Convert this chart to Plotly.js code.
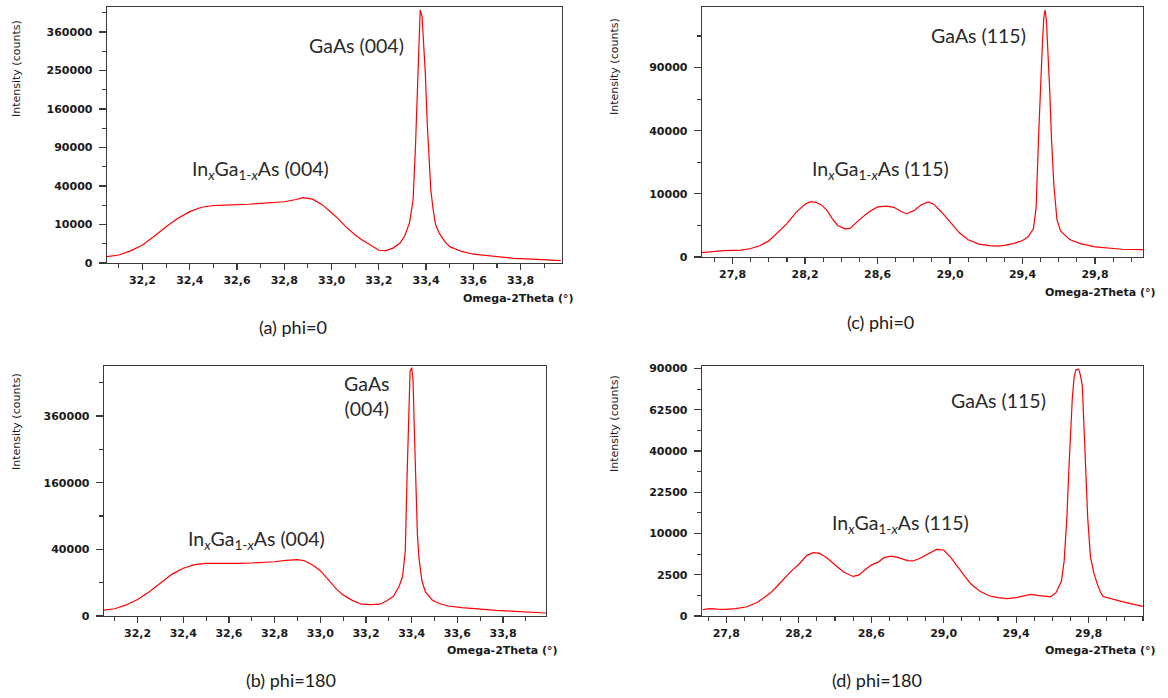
<!DOCTYPE html>
<html><head><meta charset="utf-8">
<script src="https://cdn.plot.ly/plotly-3.0.1.min.js"></script>
<style>html,body{margin:0;padding:0;background:#fff}#chart{width:1168px;height:698px}</style>
</head><body><div id="chart"></div>
<script>
// (a) GaAs (004), phi=0
const aTheta = [32.05,32.10,32.15,32.20,32.25,32.30,32.35,32.40,32.45,32.50,32.55,32.60,32.65,32.70,32.75,32.80,32.85,32.88,32.92,32.96,33.00,33.03,33.06,33.10,33.13,33.17,33.20,33.23,33.26,33.29,33.31,33.33,33.345,33.355,33.362,33.368,33.375,33.383,33.39,33.397,33.405,33.412,33.42,33.43,33.44,33.456,33.48,33.50,33.55,33.60,33.65,33.70,33.77,33.85,33.90,33.97];
const aCounts = [270,430,1000,2190,4800,8900,13500,17800,21000,22300,22600,22700,23300,24000,24700,25300,27200,28800,27500,23000,17000,13000,8900,5300,3570,1900,1100,1050,1500,2700,5000,11000,27000,90000,200000,330000,432000,410000,330000,240000,130000,70000,36000,19000,10000,5900,3000,1800,900,520,380,260,150,100,70,36];
// (b) GaAs (004), phi=180
const bTheta = [32.05,32.10,32.15,32.20,32.25,32.30,32.35,32.40,32.45,32.50,32.55,32.60,32.65,32.70,32.75,32.80,32.85,32.90,32.93,32.97,33.00,33.04,33.07,33.10,33.14,33.18,33.22,33.26,33.29,33.32,33.345,33.36,33.372,33.38,33.386,33.393,33.40,33.406,33.412,33.418,33.425,33.432,33.445,33.46,33.49,33.52,33.56,33.62,33.70,33.77,33.85,33.92,33.99];
const bCounts = [290,470,1100,2420,5200,9700,15600,20500,23800,24900,24800,24800,24900,25300,25600,26500,27800,28600,27500,23000,18500,11000,6600,4000,2200,1250,1150,1250,2000,3500,8000,14000,38000,180000,360000,540000,555000,500000,300000,150000,60000,30000,11000,5200,2300,1400,900,630,420,290,200,130,80];
// (c) GaAs (115), phi=0
const cTheta = [27.63,27.70,27.75,27.80,27.85,27.90,27.95,28.00,28.05,28.10,28.15,28.20,28.23,28.26,28.29,28.32,28.35,28.38,28.42,28.45,28.50,28.55,28.60,28.65,28.69,28.73,28.76,28.80,28.84,28.88,28.91,28.95,29.00,29.05,29.10,29.16,29.22,29.26,29.30,29.35,29.40,29.43,29.46,29.475,29.49,29.50,29.51,29.518,29.525,29.532,29.54,29.55,29.56,29.573,29.59,29.61,29.66,29.72,29.80,29.85,29.90,29.95,30.065];
const cCounts = [50,85,100,110,120,180,320,650,1500,2800,5000,7000,7700,7500,6800,5500,3700,2500,2000,2100,3500,5000,6300,6500,6200,5200,4700,5400,6800,7600,7000,5200,3100,1500,750,420,320,300,340,450,680,1000,2000,6000,40000,80000,115000,145000,153000,140000,110000,70000,35000,13000,3500,1700,760,450,260,220,180,150,135];
// (d) GaAs (115), phi=180
const dTheta = [27.67,27.71,27.75,27.80,27.85,27.91,27.97,28.00,28.04,28.08,28.12,28.16,28.20,28.245,28.28,28.31,28.34,28.37,28.41,28.45,28.50,28.53,28.57,28.60,28.64,28.67,28.71,28.75,28.80,28.83,28.87,28.92,28.96,29.00,29.04,29.07,29.11,29.15,29.20,29.25,29.30,29.35,29.40,29.45,29.48,29.52,29.56,29.59,29.62,29.65,29.665,29.68,29.69,29.70,29.71,29.72,29.73,29.745,29.755,29.765,29.775,29.785,29.795,29.81,29.83,29.847,29.865,29.88,29.93,29.99,30.05,30.10];
const dCounts = [60,80,70,66,80,119,264,420,737,1300,2100,3000,3900,5400,5900,5800,5300,4600,3600,2800,2300,2450,3200,3800,4300,5000,5250,5000,4500,4450,4900,5800,6500,6400,5000,3800,2500,1500,900,600,500,445,500,620,680,620,560,540,800,1800,4500,14400,30000,50000,70000,84000,89000,89500,85000,78000,50000,28000,14000,5100,2600,1540,850,560,420,290,200,138];

// tick labels
const yTicksA = [0,10000,40000,90000,160000,250000,360000];
const yTicksB = [0,40000,160000,360000];
const yTicksC = [0,10000,40000,90000];
const yTicksD = [0,2500,10000,22500,40000,62500,90000];
const xTicksAB = [32.2,32.4,32.6,32.8,33.0,33.2,33.4,33.6,33.8];
const xLabelsAB = ['32,2','32,4','32,6','32,8','33,0','33,2','33,4','33,6','33,8'];
const xTicksCD = [27.8,28.2,28.6,29.0,29.4,29.8];
const xLabelsCD = ['27,8','28,2','28,6','29,0','29,4','29,8'];

const W = 1168, H = 698;
const px = x => x / W, py = y => 1 - y / H;
const sq = arr => arr.map(v => Math.sqrt(v));

const lineCol = '#3a3a3a';
const tickFont = {family: 'DejaVu Sans', size: 11, color: '#1a1a1a', weight: 'bold'};

function xAx(x0, x1, range, tv, tt, anchor) {
  return {domain: [px(x0), px(x1)], range: range, anchor: anchor,
    showline: true, mirror: true, linecolor: lineCol, linewidth: 1.3,
    ticks: 'outside', ticklen: 6, tickwidth: 1.2, tickcolor: lineCol,
    tickmode: 'array', tickvals: tv, ticktext: tt, tickfont: tickFont,
    showgrid: false, zeroline: false,
    minor: {ticks: 'outside', ticklen: 4, tickwidth: 1.1, tickcolor: lineCol, dtick: 0.1, tick0: 27.0, showgrid: false}};
}
function yAx(y0, y1, top, ticks, minorStep, anchor) {
  return {domain: [py(y1), py(y0)], range: [0, top], anchor: anchor,
    showline: true, mirror: true, linecolor: lineCol, linewidth: 1.3,
    ticks: 'outside', ticklen: 7, tickwidth: 1.2, tickcolor: lineCol,
    tickmode: 'array', tickvals: ticks.map(Math.sqrt), ticktext: ticks.map(String), tickfont: tickFont,
    ticklabelstandoff: 4,
    showgrid: false, zeroline: false,
    minor: {ticks: 'outside', ticklen: 4, tickwidth: 1.1, tickcolor: lineCol, dtick: minorStep, tick0: 0, showgrid: false}};
}

const red = {color: '#ff0000', width: 1.2};
const traces = [
  {x: aTheta, y: sq(aCounts), xaxis: 'x', yaxis: 'y', mode: 'lines', line: red},
  {x: bTheta, y: sq(bCounts), xaxis: 'x2', yaxis: 'y2', mode: 'lines', line: red},
  {x: cTheta, y: sq(cCounts), xaxis: 'x3', yaxis: 'y3', mode: 'lines', line: red},
  {x: dTheta, y: sq(dCounts), xaxis: 'x4', yaxis: 'y4', mode: 'lines', line: red}
];

const lblFont = {family: 'Lato', size: 19.5, color: '#2a2a2a'};
const capFont = {family: 'Lato', size: 18, color: '#1a1a1a'};
const ytFont = {family: 'DejaVu Sans', size: 11, color: '#1a1a1a'};
const xtFont = {family: 'DejaVu Sans', size: 11, color: '#1a1a1a', weight: 'bold'};
function ann(x, y, text, font, extra) {
  return Object.assign({xref: 'paper', yref: 'paper', x: px(x), y: py(y), text: text, font: font,
    showarrow: false, xanchor: 'center', yanchor: 'middle'}, extra || {});
}
const ingaas = t => 'In<sub><i>x</i></sub>Ga<sub>1-<i>x</i></sub>As (' + t + ')';

const annotations = [
  ann(260, 170, ingaas('004'), lblFont),
  ann(356, 46, 'GaAs (004)', lblFont),
  ann(256, 540, ingaas('004'), lblFont),
  ann(367, 396, 'GaAs<br>(004)', lblFont),
  ann(880, 170, ingaas('115'), lblFont),
  ann(978, 35, 'GaAs (115)', lblFont),
  ann(900, 524, ingaas('115'), lblFont),
  ann(998, 400, 'GaAs (115)', lblFont),
  ann(293, 327, '(a) phi=0', capFont),
  ann(291, 680, '(b) phi=180', capFont),
  ann(880, 322, '(c) phi=0', capFont),
  ann(877, 680, '(d) phi=180', capFont),
  ann(16, 69, 'Intensity (counts)', ytFont, {textangle: -90}),
  ann(16, 422, 'Intensity (counts)', ytFont, {textangle: -90}),
  ann(614, 67, 'Intensity (counts)', ytFont, {textangle: -90}),
  ann(614, 424, 'Intensity (counts)', ytFont, {textangle: -90}),
  ann(576, 298, 'Omega-2Theta (°)', xtFont, {xanchor: 'right'}),
  ann(560, 650, 'Omega-2Theta (°)', xtFont, {xanchor: 'right'}),
  ann(1158, 292, 'Omega-2Theta (°)', xtFont, {xanchor: 'right'}),
  ann(1158, 650, 'Omega-2Theta (°)', xtFont, {xanchor: 'right'})
];

const layout = {
  width: W, height: H, margin: {l: 0, r: 0, t: 0, b: 0},
  paper_bgcolor: '#fff', plot_bgcolor: '#fff', showlegend: false,
  xaxis: xAx(107, 562, [32.05, 33.975], xTicksAB, xLabelsAB, 'y'),
  yaxis: yAx(7, 263, 665, yTicksA, 50, 'x'),
  xaxis2: xAx(104, 546, [32.053, 33.988], xTicksAB, xLabelsAB, 'y2'),
  yaxis2: yAx(366, 616, 750, yTicksB, 100, 'x2'),
  xaxis3: xAx(702, 1143, [27.631, 30.065], xTicksCD, xLabelsCD, 'y3'),
  yaxis3: yAx(7, 257, 396, yTicksC, 50, 'x3'),
  xaxis4: xAx(702, 1143, [27.666, 30.10], xTicksCD, xLabelsCD, 'y4'),
  yaxis4: yAx(366, 616, 303, yTicksD, 25, 'x4'),
  annotations: annotations
};

Plotly.newPlot('chart', traces, layout, {displayModeBar: false, staticPlot: true});
</script></body></html>
